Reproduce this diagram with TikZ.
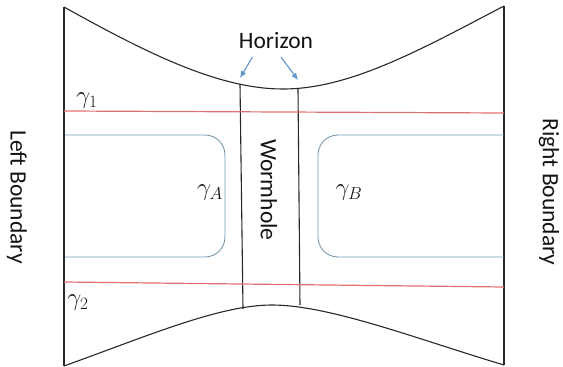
\documentclass[tikz,border=0pt]{standalone}
\usepackage{fontspec}
\setmainfont{Carlito}
\usetikzlibrary{arrows.meta}
\definecolor{linegray}{RGB}{40,40,40}
\definecolor{redline}{RGB}{222,112,112}
\definecolor{blueline}{RGB}{120,152,175}
\definecolor{arrowblue}{RGB}{95,150,205}
\definecolor{textgray}{RGB}{20,20,20}
\tikzset{
  bnd/.style={draw=linegray, line width=1.1pt},
  geod/.style={draw=redline, line width=1.2pt},
  loopline/.style={draw=blueline, line width=0.9pt, rounded corners=20pt},
  hzarrow/.style={draw=arrowblue, line width=1.1pt, -{Latex[length=7pt,width=6pt]}},
  lbl/.style={text=textgray, font=\fontsize{23.5}{27}\selectfont, inner sep=0pt},
  mlbl/.style={text=textgray, font=\fontsize{26}{30}\selectfont, inner sep=0pt}
}
\begin{document}
\begin{tikzpicture}[x=1pt,y=-1pt]
\useasboundingbox (0,0) rectangle (563,367);
% key coordinates
\coordinate (TL) at (64,7);
\coordinate (BL) at (64,366);
\coordinate (TR) at (504,6);
\coordinate (BR) at (504,365);
\coordinate (Tmin) at (283,89);
\coordinate (Bmax) at (272,305);
% boundaries
\draw[bnd] (TL) -- (BL);
\draw[bnd] (TR) -- (BR);
% horizon curves
\draw[bnd] (TL) .. controls (150,55) and (220,89) .. (Tmin)
  .. controls (350,89) and (420,50) .. (TR);
\draw[bnd] (BL) .. controls (150,335) and (220,305) .. (Bmax)
  .. controls (330,305) and (420,340) .. (BR);
% wormhole throat lines
\coordinate (W1t) at (240,84);
\coordinate (W1b) at (243,309);
\coordinate (W2t) at (298,89);
\coordinate (W2b) at (300,305);
\draw[bnd] (W1t) -- (W1b);
\draw[bnd] (W2t) -- (W2b);
% red geodesics
\coordinate (G1l) at (64,111);
\coordinate (G1r) at (504,113);
\coordinate (G2l) at (64,282);
\coordinate (G2r) at (504,287);
\draw[geod] (G1l) -- (G1r);
\draw[geod] (G2l) -- (G2r);
% blue loops
\draw[loopline] (65,135) -- (225,135) -- (225,257) -- (65,257);
\draw[loopline] (504,135) -- (318,135) -- (318,257) -- (504,257);
% labels
\node[lbl] (hor) at (276,40) {Horizon};
\node[lbl, rotate=-90] (worm) at (269,190) {Wormhole};
\node[lbl, rotate=-90] (lb) at (17,197) {Left Boundary};
\node[lbl, rotate=-90] (rb) at (549,192) {Right Boundary};
\node[mlbl] (g1) at (87,101) {$\gamma_1$};
\node[mlbl] (g2) at (78,303) {$\gamma_2$};
\node[mlbl] (gA) at (210,193) {$\gamma_A$};
\node[mlbl] (gB) at (349,193) {$\gamma_B$};
% horizon arrows
\coordinate (a1s) at (252.5,57);
\coordinate (a1e) at (240,78);
\coordinate (a2s) at (281,57);
\coordinate (a2e) at (298,80);
\draw[hzarrow] (a1s) -- (a1e);
\draw[hzarrow] (a2s) -- (a2e);
\end{tikzpicture}
\end{document}
